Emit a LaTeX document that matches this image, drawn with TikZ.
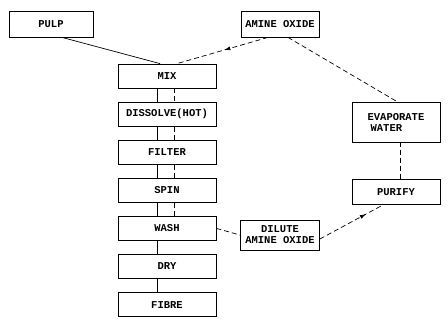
\documentclass[tikz,border=0pt]{standalone}
\usepackage{fontspec}
\setmonofont{Liberation Mono}
\usetikzlibrary{positioning,decorations.markings,arrows.meta}

\begin{document}
\begin{tikzpicture}[
      x=1pt, y=-1pt,
      line width=0.7pt,
      node distance=13.3pt,
      every node/.style={inner sep=2pt,font=\ttfamily\bfseries\fontsize{10.5}{11}\selectfont},
      box/.style={draw,line width=0.8pt,minimum height=24pt},
      stepbox/.style={box,minimum width=98pt},
      recycle/.style={dash pattern=on 5pt off 3pt},
      midarrow/.style={postaction={decorate},
        decoration={markings,mark=at position #1 with {\arrow{Latex[length=6pt,width=4pt]}}}}
    ]
      \useasboundingbox (0,0) rectangle (448,325);

      % Main line, top to bottom
      \node[stepbox] (mix) at (167,76) {MIX};
      \node[stepbox, below=of mix] (dissolve) {DISSOLVE(HOT)};
      \node[stepbox, below=of dissolve] (filter) {FILTER};
      \node[stepbox, below=of filter] (spin) {SPIN};
      \node[stepbox, below=of spin] (wash) {WASH};
      \node[stepbox, below=of wash] (dry) {DRY};
      \node[stepbox, below=of dry] (fibre) {FIBRE};

      % Feeds and the solvent loop
      \node[box, minimum width=84pt, minimum height=26pt] (pulp) at (51,24) {PULP};
      \node[box, minimum width=78pt, minimum height=26pt] (amine) at (280,24) {AMINE OXIDE};
      \node[box, minimum width=88pt, minimum height=40pt, align=left] (evap) at (396,122) {EVAPORATE\\\hspace{3pt}WATER};
      \node[box, minimum width=88pt, minimum height=25pt] (purify) at (396,192) {PURIFY};
      \node[box, minimum width=79pt, minimum height=30pt, align=center, inner sep=1pt] (dilute) at (280,235) {DILUTE\\AMINE OXIDE};

      \foreach \a/\b in {mix/dissolve,dissolve/filter,filter/spin,spin/wash,wash/dry,dry/fibre}
        \draw ([xshift=-10pt]\a.south) -- ([xshift=-10pt]\b.north);
      \foreach \a/\b in {mix/dissolve,dissolve/filter,filter/spin,spin/wash}
        \draw[recycle] ([xshift=7pt]\a.south) -- ([xshift=7pt]\b.north);

      \draw ([xshift=11pt]pulp.south) -- ([xshift=-7pt]mix.north);
      \draw[recycle, midarrow=0.48] ([xshift=-12pt]amine.south) -- ([xshift=10pt]mix.north);
      \draw[recycle] ([xshift=8pt]amine.south) -- ([xshift=1pt]evap.north);
      \draw[recycle] ([xshift=4pt]purify.north) -- ([xshift=4pt]evap.south);
      \draw[recycle] (wash.east) -- (dilute.west);
      \draw[recycle, midarrow=0.73] ([yshift=-4pt]dilute.east) -- ([xshift=-13pt]purify.south);
    \end{tikzpicture}
\end{document}
